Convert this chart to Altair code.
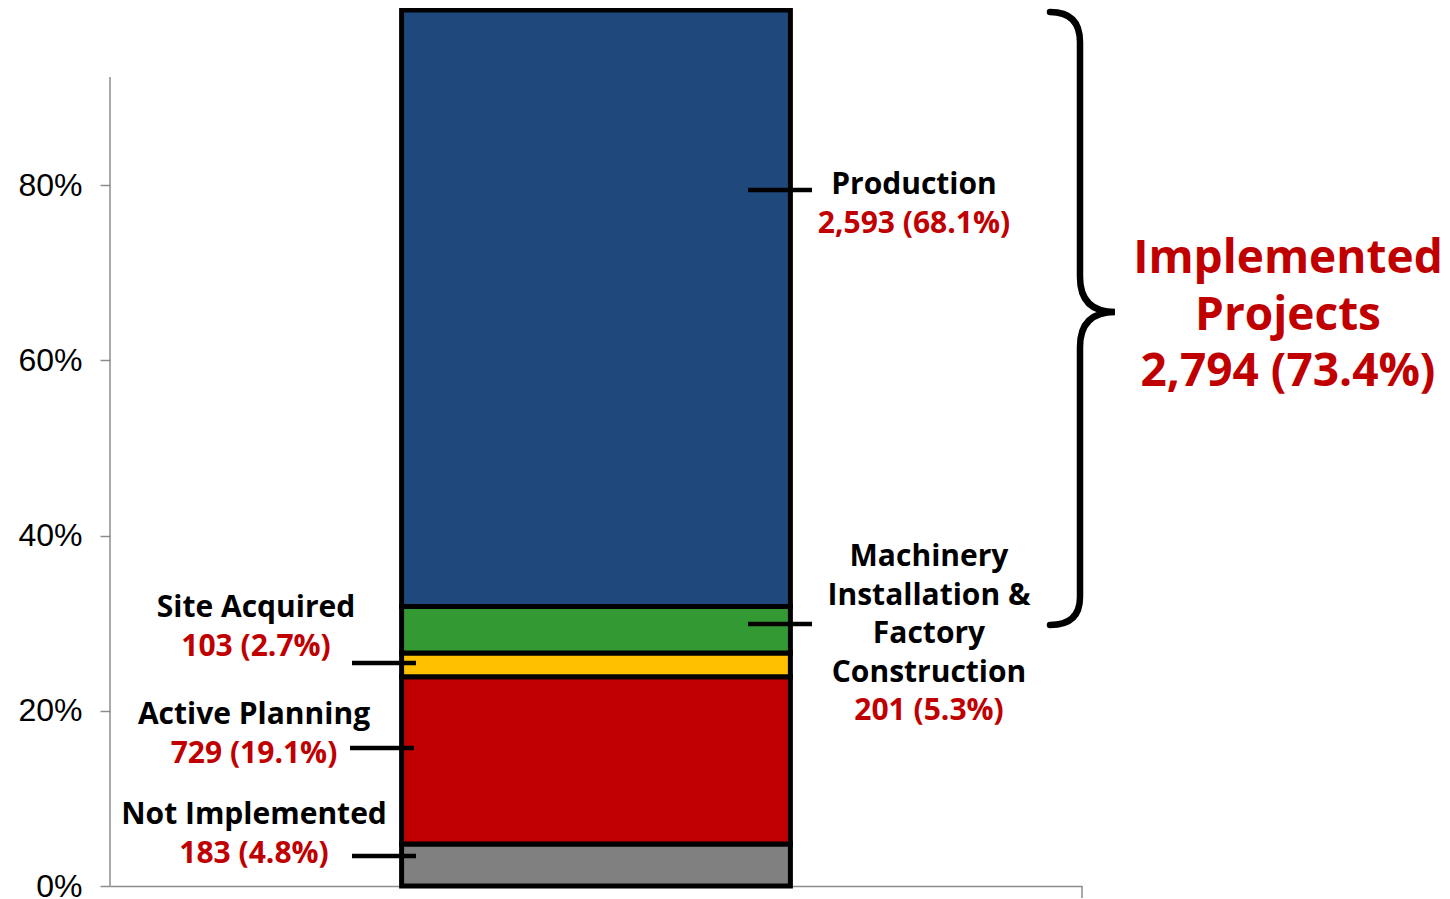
import altair as alt
import pandas as pd

# ---- data ----
categories = ["Not Implemented", "Active Planning", "Site Acquired",
              "Machinery Installation & Factory Construction", "Production"]
counts = [183, 729, 103, 201, 2593]
shares = [4.8, 19.1, 2.7, 5.3, 68.1]
bar_colors = ["#808080", "#C00000", "#FFC000", "#339933", "#1F497D"]
y_ticks = [0, 0.2, 0.4, 0.6, 0.8]

label_lines = {
    "Not Implemented": ["Not Implemented"],
    "Active Planning": ["Active Planning"],
    "Site Acquired": ["Site Acquired"],
    "Machinery Installation & Factory Construction": ["Machinery", "Installation &", "Factory", "Construction"],
    "Production": ["Production"],
}
implemented = ["Machinery Installation & Factory Construction", "Production"]

# ---- layout (pixel positions inside the plot area) ----
W, H = 972, 876
RED = "#C00000"
FONT = "Open Sans"
label_pos = {  # (center x, y of first line)
    "Not Implemented": (144, 805),
    "Active Planning": (144, 705),
    "Site Acquired": (146, 598),
    "Machinery Installation & Factory Construction": (819, 547),
    "Production": (804, 175),
}
line_step = 38.5
leader_pos = {  # (x, x2, y)
    "Not Implemented": (242, 306, 846),
    "Active Planning": (240, 304, 738),
    "Site Acquired": (242, 306, 653),
    "Machinery Installation & Factory Construction": (638, 702, 614),
    "Production": (638, 702, 180),
}

bars = pd.DataFrame({
    "bar": "All",
    "category": categories,
    "share": [s / 100 for s in shares],
    "order": list(range(len(categories))),
})

bar = alt.Chart(bars).mark_bar(stroke="black", strokeWidth=5).encode(
    x=alt.X("bar:N", scale=alt.Scale(paddingOuter=0.75, paddingInner=0),
            axis=alt.Axis(title=None, labels=False, ticks=False, domain=True,
                          domainColor="#8c8c8c", domainWidth=1.5)),
    y=alt.Y("share:Q", stack="zero", scale=alt.Scale(domain=[0, 1], nice=False),
            axis=alt.Axis(values=y_ticks, format=".0%", title=None, grid=False,
                          domain=False, tickColor="#8c8c8c", tickSize=10, tickWidth=1.5,
                          labelFont="Liberation Sans", labelFontSize=32,
                          labelColor="black", labelPadding=18)),
    color=alt.Color("category:N", scale=alt.Scale(domain=categories, range=bar_colors),
                    legend=None),
    order=alt.Order("order:Q"),
)

# axis line (y) and end tick (x)
axis_rules = pd.DataFrame({"x": [0, W], "x2": [0, W], "y": [67, H], "y2": [H, H + 12]})
axis_layer = alt.Chart(axis_rules).mark_rule(color="#8c8c8c", strokeWidth=1.5).encode(
    x=alt.X("x:Q", scale=None, axis=None), x2="x2:Q",
    y=alt.Y("y:Q", scale=None, axis=None), y2="y2:Q",
)

# leader lines
lead_df = pd.DataFrame({
    "x": [leader_pos[c][0] for c in categories],
    "x2": [leader_pos[c][1] for c in categories],
    "y": [leader_pos[c][2] for c in categories],
})
leaders = alt.Chart(lead_df).mark_rule(color="black", strokeWidth=4.5).encode(
    x=alt.X("x:Q", scale=None, axis=None), x2="x2:Q",
    y=alt.Y("y:Q", scale=None, axis=None),
)

# category labels
rows = []
for cat, cnt, sh in zip(categories, counts, shares):
    cx, y0 = label_pos[cat]
    lines = label_lines[cat]
    for i, ln in enumerate(lines):
        rows.append({"x": cx, "y": y0 + i * line_step, "text": ln, "color": "black"})
    rows.append({"x": cx, "y": y0 + len(lines) * line_step,
                 "text": f"{cnt:,} ({sh}%)", "color": RED})
lab_df = pd.DataFrame(rows)
labels = alt.Chart(lab_df).mark_text(font=FONT, fontWeight="bold", fontSize=30,
                                     align="center", baseline="middle").encode(
    x=alt.X("x:Q", scale=None, axis=None),
    y=alt.Y("y:Q", scale=None, axis=None),
    text="text:N",
    color=alt.Color("color:N", scale=None),
)

# implemented summary
impl_count = sum(counts[categories.index(c)] for c in implemented)
impl_share = sum(shares[categories.index(c)] for c in implemented)
big_df = pd.DataFrame({
    "x": [1178, 1178, 1178],
    "y": [249, 306, 362],
    "text": ["Implemented", "Projects", f"{impl_count:,} ({impl_share:.1f}%)"],
})
big = alt.Chart(big_df).mark_text(font=FONT, fontWeight="bold", fontSize=46,
                                  align="center", baseline="middle", color=RED).encode(
    x=alt.X("x:Q", scale=None, axis=None),
    y=alt.Y("y:Q", scale=None, axis=None),
    text="text:N",
)

# curly brace
brace_path = "M -0.3 -3 Q 0 -3 0 -2.7 L 0 -0.35 Q 0 0 0.35 0 Q 0 0 0 0.35 L 0 2.85 Q 0 3.13 -0.3 3.13"
brace = alt.Chart(pd.DataFrame({"k": [0]})).mark_point(
    shape=brace_path, size=40000, filled=False, color="black",
    strokeWidth=6.5, opacity=1, strokeCap="round").encode(
    x=alt.value(970), y=alt.value(302),
)

chart = alt.layer(bar, axis_layer, leaders, labels, big, brace).properties(
    width=W, height=H,
    padding={"left": 102, "top": 2, "right": 360, "bottom": 13},
    autosize=alt.AutoSizeParams(type="none"),
    background="white",
).configure_view(stroke=None)

chart.save("out.html", embed_options={"renderer": "svg", "actions": False})
